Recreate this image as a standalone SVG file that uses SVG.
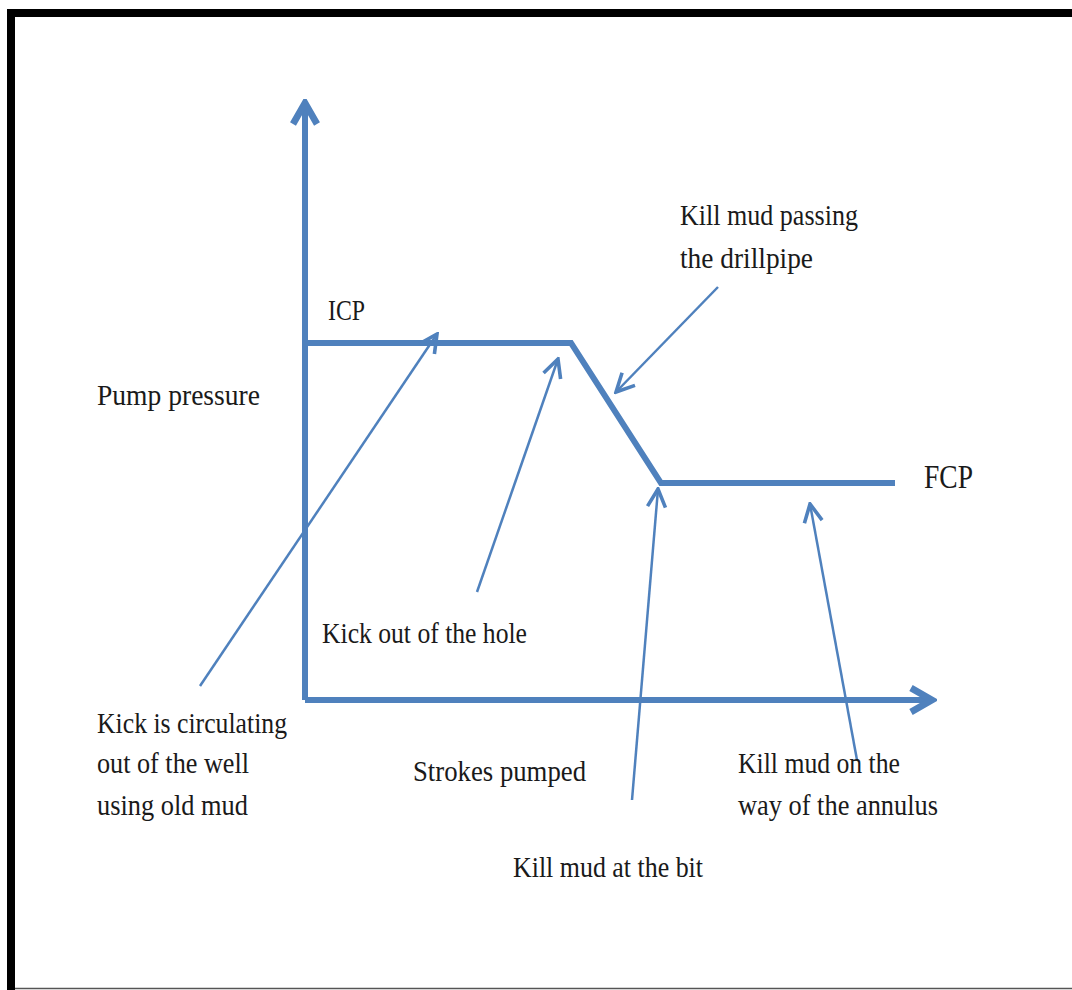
<svg xmlns="http://www.w3.org/2000/svg" width="1072" height="990" viewBox="0 0 1072 990">
<style>
.t{font-family:"Liberation Serif","DejaVu Serif",serif;font-size:30px;fill:#1a1a1a}
.ax{stroke:#4F81BD;stroke-width:6;fill:none;stroke-linejoin:miter}
.ptr{stroke:#4F81BD;stroke-width:2.5;fill:none}
</style>
<defs>
<marker id="open" viewBox="0 0 20 20" refX="18" refY="10" markerWidth="9" markerHeight="9" markerUnits="strokeWidth" orient="auto">
<path d="M2,2 L18,10 L2,18" fill="none" stroke="#4F81BD" stroke-width="3.2"/>
</marker>
<marker id="axh" viewBox="0 0 20 20" refX="17" refY="10" markerWidth="5" markerHeight="5" markerUnits="strokeWidth" orient="auto">
<path d="M3,2 L17,10 L3,18" fill="none" stroke="#4F81BD" stroke-width="4.5"/>
</marker>
</defs>
<rect x="0" y="0" width="1072" height="990" fill="#fff"/>
<g id="frame">
<rect x="7" y="9" width="1065" height="8" fill="#000"/>
<rect x="7" y="9" width="8" height="981" fill="#000"/>
<line x1="15" y1="988.5" x2="1072" y2="988.5" stroke="#555" stroke-width="1.5"/>
</g>
<g id="connectors">
<line id="y-axis" class="ax" x1="305" y1="700" x2="305" y2="103" marker-end="url(#axh)"/>
<line id="x-axis" class="ax" x1="305" y1="700" x2="932" y2="700" marker-end="url(#axh)"/>
<polyline id="pressure-curve" class="ax" points="305,343 571,343 661,483 895,483"/>
<line class="ptr" x1="200" y1="686" x2="437" y2="334" marker-end="url(#open)"/>
<line class="ptr" x1="477" y1="592" x2="558" y2="359" marker-end="url(#open)"/>
<line class="ptr" x1="718" y1="287" x2="616" y2="392" marker-end="url(#open)"/>
<line class="ptr" x1="632" y1="800" x2="658" y2="489" marker-end="url(#open)"/>
<line class="ptr" x1="857" y1="760" x2="810" y2="504" marker-end="url(#open)"/>
</g>
<g id="icp"><text class="t" x="328" y="320" textLength="37" lengthAdjust="spacingAndGlyphs">ICP</text></g>
<g id="fcp"><text class="t" x="924" y="488" style="font-size:34px" textLength="49" lengthAdjust="spacingAndGlyphs">FCP</text></g>
<g id="pump-pressure"><text class="t" x="97" y="405" textLength="163" lengthAdjust="spacingAndGlyphs">Pump pressure</text></g>
<g id="kill-passing">
<text class="t" x="680" y="225" textLength="178" lengthAdjust="spacingAndGlyphs">Kill mud passing</text>
<text class="t" x="680" y="268" textLength="133" lengthAdjust="spacingAndGlyphs">the drillpipe</text>
</g>
<g id="kick-out"><text class="t" x="322" y="643" textLength="205" lengthAdjust="spacingAndGlyphs">Kick out of the hole</text></g>
<g id="kick-circ">
<text class="t" x="97" y="733" textLength="190" lengthAdjust="spacingAndGlyphs">Kick is circulating</text>
<text class="t" x="97" y="773" textLength="152" lengthAdjust="spacingAndGlyphs">out of the well</text>
<text class="t" x="97" y="815" textLength="151" lengthAdjust="spacingAndGlyphs">using old mud</text>
</g>
<g id="strokes"><text class="t" x="413" y="781" textLength="173" lengthAdjust="spacingAndGlyphs">Strokes pumped</text></g>
<g id="kill-annulus">
<text class="t" x="738" y="773" textLength="162" lengthAdjust="spacingAndGlyphs">Kill mud on the</text>
<text class="t" x="738" y="815" textLength="200" lengthAdjust="spacingAndGlyphs">way of the annulus</text>
</g>
<g id="kill-bit"><text class="t" x="513" y="877" textLength="190" lengthAdjust="spacingAndGlyphs">Kill mud at the bit</text></g>
</svg>
